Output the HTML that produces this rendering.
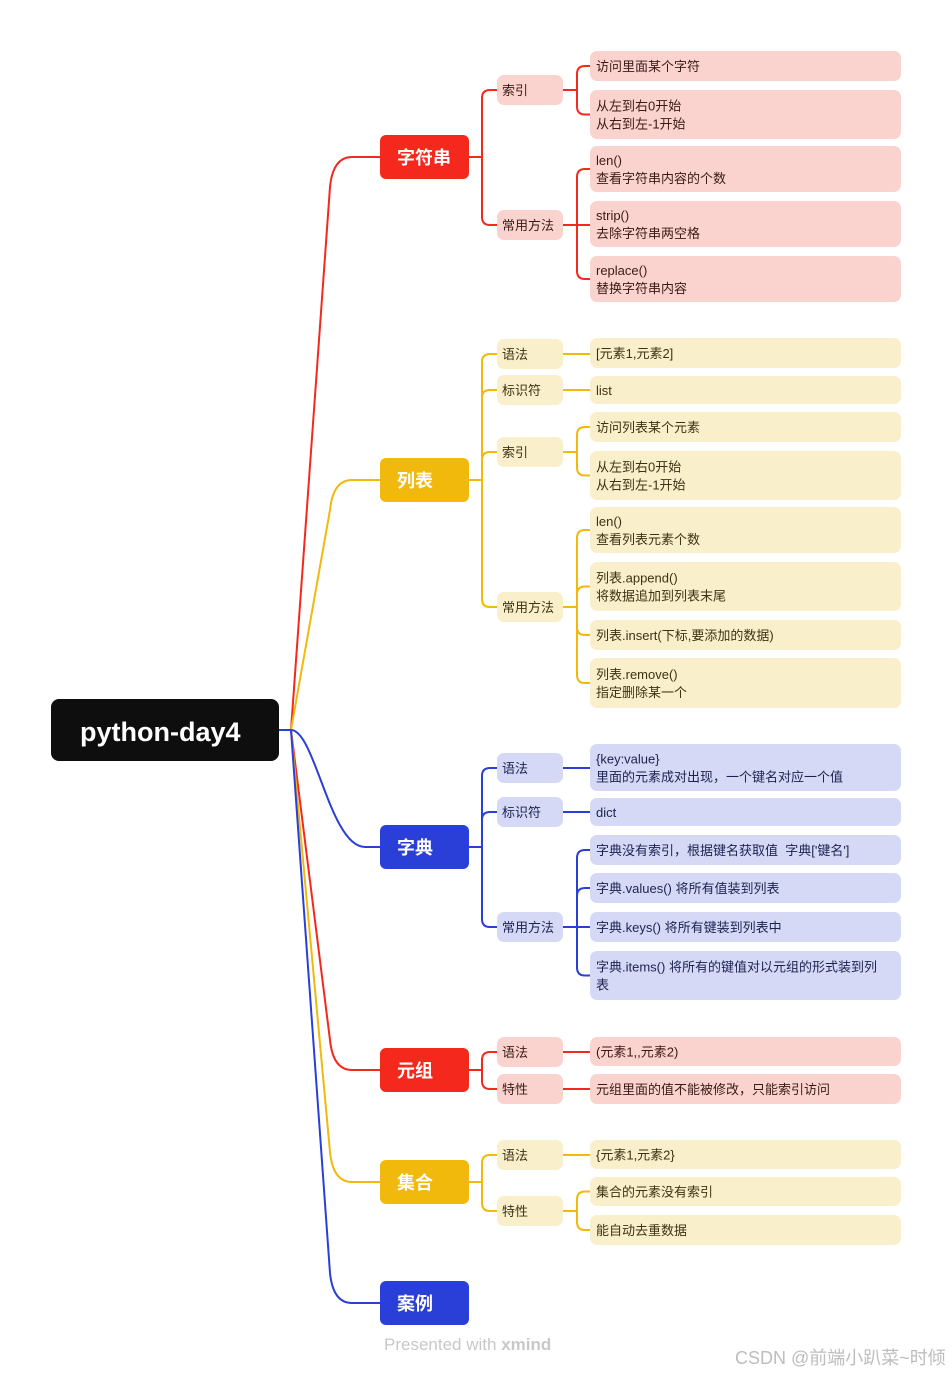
<!DOCTYPE html>
<html><head><meta charset="utf-8">
<style>
html,body{margin:0;padding:0;background:#fff;width:952px;height:1375px;overflow:hidden}
svg text{font-family:"Liberation Sans","Noto Sans CJK SC",sans-serif}
</style></head>
<body>
<svg id="s" width="952" height="1375" xmlns="http://www.w3.org/2000/svg"></svg>
<script>
const S=document.getElementById('s');let h='';
const C={r:['#F4281C','#FBD3CE','#3a1a16'],y:['#F0B90B','#FAEFCB','#3d3212'],b:['#2A3FD7','#D5D9F6','#1c2150']};
function rect(x,y,w,hh,f,r){h+=`<rect x="${x}" y="${y}" width="${w}" height="${hh}" rx="${r}" fill="${f}"/>`;}
function txt(x,y,t,sz,f,w){h+=`<text x="${x}" y="${y}" font-size="${sz}" fill="${f}" font-weight="${w||'normal'}">${t}</text>`;}
function path(d,c){h+=`<path d="${d}" stroke="${c}" stroke-width="2" fill="none"/>`;}
function bracket(x0,py,xm,x1,cys,c){
  path(`M${x0} ${py}H${xm}`,c);
  for(const cy of cys){
    if(Math.abs(cy-py)<2){path(`M${xm} ${py}H${x1}`,c);continue;}
    const s=cy>py?1:-1;
    path(`M${xm} ${py}V${cy-s*8}Q${xm} ${cy} ${xm+8} ${cy}H${x1}`,c);
  }
}
const mains=[
 ['字符串',157,'r',[
   ['索引',90,[[51,81,['访问里面某个字符']],[90,139,['从左到右0开始','从右到左-1开始']]]],
   ['常用方法',225,[[146,192,['len()','查看字符串内容的个数']],[201,247,['strip()','去除字符串两空格']],[256,302,['replace()','替换字符串内容']]]]]],
 ['列表',480,'y',[
   ['语法',354,[[338,368,['[元素1,元素2]']]]],
   ['标识符',390,[[376,404,['list']]]],
   ['索引',452,[[412,442,['访问列表某个元素']],[451,500,['从左到右0开始','从右到左-1开始']]]],
   ['常用方法',607,[[507,553,['len()','查看列表元素个数']],[562,611,['列表.append()','将数据追加到列表末尾']],[620,650,['列表.insert(下标,要添加的数据)']],[658,708,['列表.remove()','指定删除某一个']]]]]],
 ['字典',847,'b',[
   ['语法',768,[[744,791,['{key:value}','里面的元素成对出现，一个键名对应一个值']]]],
   ['标识符',812,[[798,826,['dict']]]],
   ['常用方法',927,[[835,865,['字典没有索引，根据键名获取值&#160;&#160;字典[\'键名\']']],[873,903,['字典.values() 将所有值装到列表']],[912,942,['字典.keys() 将所有键装到列表中']],[951,1000,['字典.items() 将所有的键值对以元组的形式装到列','表']]]]]],
 ['元组',1070,'r',[
   ['语法',1052,[[1037,1066,['(元素1,,元素2)']]]],
   ['特性',1089,[[1074,1104,['元组里面的值不能被修改，只能索引访问']]]]]],
 ['集合',1182,'y',[
   ['语法',1155,[[1140,1169,['{元素1,元素2}']]]],
   ['特性',1211,[[1177,1206,['集合的元素没有索引']],[1215,1245,['能自动去重数据']]]]]],
 ['案例',1303,'b',[]]
];
for(const [n,cy,k] of mains){
  const c=C[k][0];let d;
  if(n==='字典'){d=`M291 730C315 730 330 847 365 847H380`;}
  else{const s=cy>730?1:-1;d=`M291 730L330 ${cy-s*30}Q333 ${cy} 352 ${cy}H380`;}
  path(d,c);
}
path('M279 730H291','#2A3FD7');
rect(51,699,228,62,'#0e0e0e',8);
txt(80,741,'python-day4',27,'#fff','bold');
for(const [n,cy,k,subs] of mains){
  const [c,f,tc]=C[k];
  rect(380,cy-22,89,44,c,6);
  txt(397,cy+7,n,18,'#fff','bold');
  if(!subs.length)continue;
  bracket(469,cy,482,497,subs.map(s=>s[1]),c);
  for(const [sn,sy,leaves] of subs){
    bracket(563,sy,577,590,leaves.map(l=>(l[0]+l[1])/2),c);
    rect(497,sy-15,66,30,f,7);
    txt(502,sy+5,sn,13,tc);
    for(const [y0,y1,ls] of leaves){
      rect(590,y0,311,y1-y0,f,7);
      const mid=(y0+y1)/2;const st=mid-(ls.length-1)*9+5;
      ls.forEach((t,i)=>txt(596,st+i*18,t,13,tc));
    }
  }
}
h+=`<text x="384" y="1350" font-size="17" fill="#c8c8c8">Presented with <tspan font-weight="bold">xmind</tspan></text>`;
h+=`<text x="735" y="1364" font-size="18" fill="#bdbdbd">CSDN @前端小趴菜~时倾</text>`;
S.innerHTML=h;
</script>
</body></html>
